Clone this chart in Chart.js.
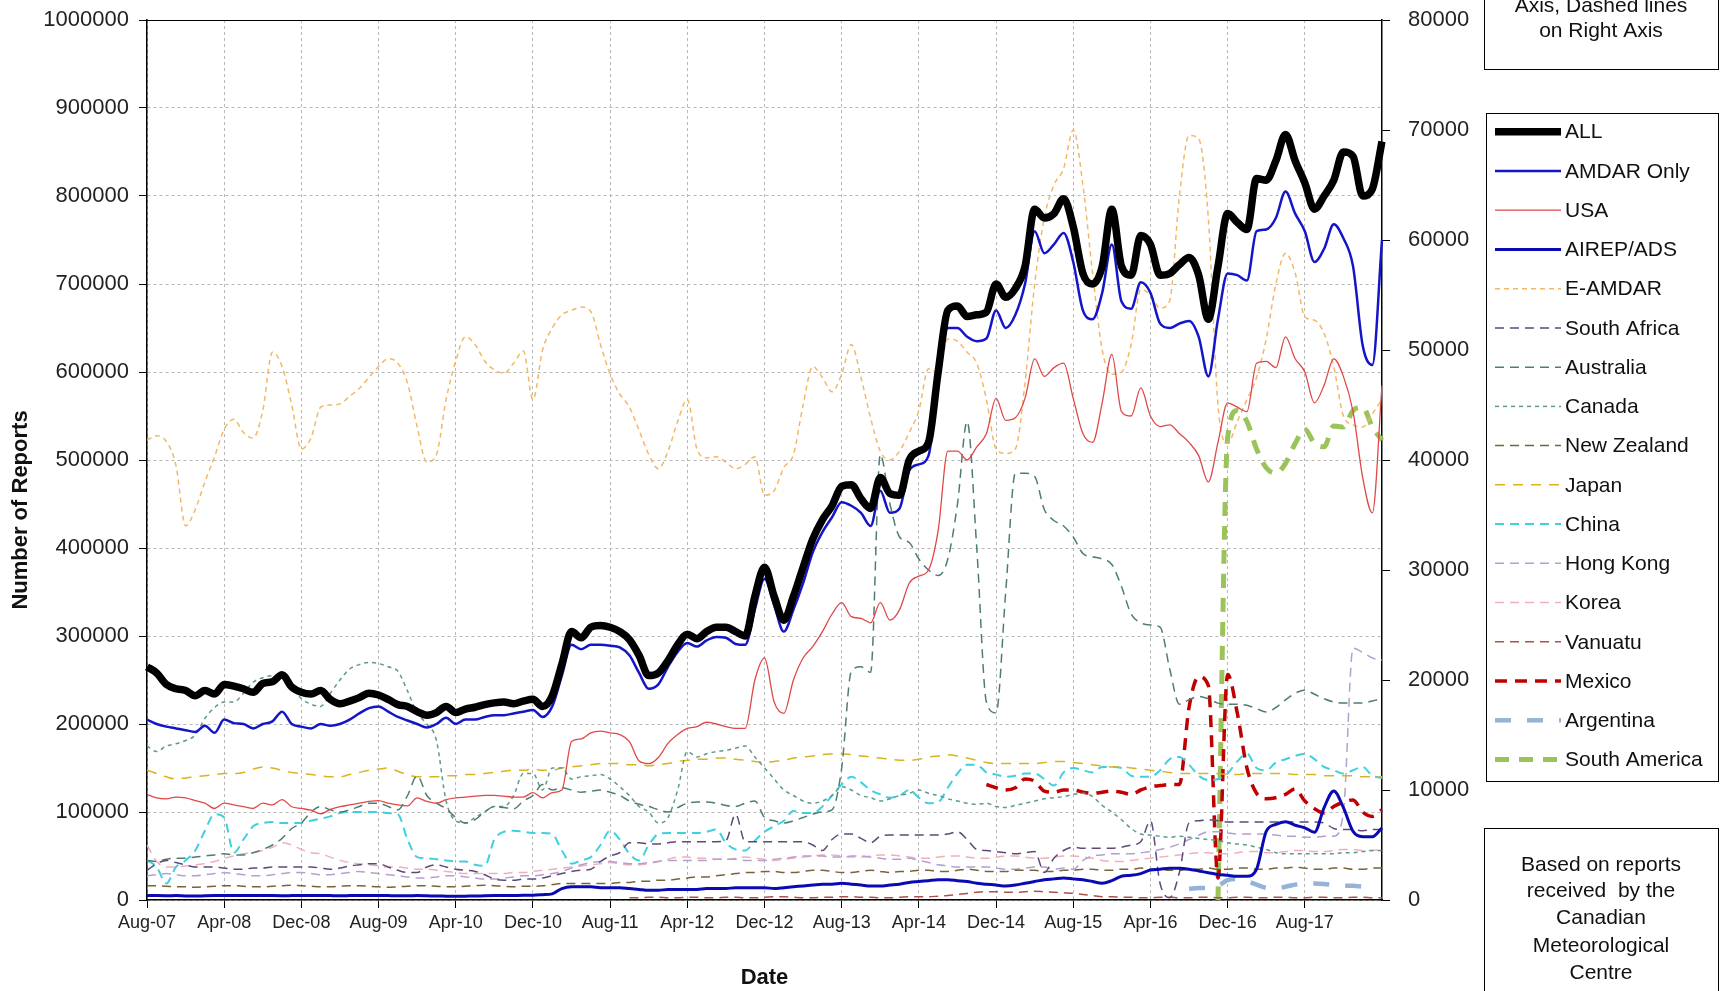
<!DOCTYPE html>
<html>
<head>
<meta charset="utf-8">
<title>Aircraft reports received by the Canadian Meteorological Centre</title>
<script src="https://cdn.jsdelivr.net/npm/chart.js@4.4.1/dist/chart.umd.min.js"></script>
<style>
  html, body { margin: 0; padding: 0; background: #fff; }
  #wrap { width: 1721px; height: 991px; }
</style>
</head>
<body>
<div id="wrap"><canvas id="reportsChart" width="1721" height="991"></canvas></div>
<script>
const FONT = "'Liberation Sans', Arial, Helvetica, sans-serif";

// monthly categories Aug-07 .. Apr-18
const monthNames = ["Jan", "Feb", "Mar", "Apr", "May", "Jun", "Jul", "Aug", "Sep", "Oct", "Nov", "Dec"];
const months = [];
for (let i = 0; i < 129; i++) {
  const m = (7 + i) % 12;
  const yr = 7 + Math.floor((7 + i) / 12);
  months.push(monthNames[m] + "-" + String(yr).padStart(2, "0"));
}
const tickEvery = 8;          // a label every 8 months
const lastTickIndex = 120;    // Aug-17 is the last labelled month

const leftTicks = [0, 100000, 200000, 300000, 400000, 500000, 600000, 700000, 800000, 900000, 1000000];
const rightTicks = [0, 10000, 20000, 30000, 40000, 50000, 60000, 70000, 80000];

const pad = (n, vals) => Array(n).fill(null).concat(vals);

// ---- solid lines, left axis ----
const allReports = [
  265000, 258000, 245000, 240000, 238000, 232000, 238000, 234000, 245000, 243000,
  240000, 236000, 246000, 248000, 256000, 242000, 236000, 234000, 238000, 228000,
  223000, 226000, 230000, 235000, 233000, 228000, 222000, 220000, 214000, 210000,
  213000, 220000, 213000, 217000, 219000, 222000, 224000, 225000, 223000, 226000,
  228000, 220000, 232000, 268000, 305000, 298000, 310000, 312000, 310000, 305000,
  296000, 278000, 255000, 258000, 272000, 290000, 302000, 297000, 305000, 310000,
  310000, 305000, 300000, 345000, 378000, 345000, 318000, 345000, 378000, 410000,
  432000, 448000, 470000, 472000, 456000, 445000, 480000, 462000, 460000, 500000,
  510000, 520000, 600000, 670000, 675000, 663000, 665000, 668000, 700000, 685000,
  695000, 720000, 785000, 775000, 780000, 797000, 765000, 712000, 700000, 720000,
  785000, 720000, 710000, 755000, 745000, 710000, 712000, 722000, 730000, 710000,
  660000, 720000, 780000, 770000, 762000, 820000, 818000, 840000, 870000, 840000,
  815000, 785000, 800000, 818000, 850000, 845000, 800000, 808000, 862000
];
const amdarOnly = [
  205000, 200000, 197000, 195000, 193000, 191000, 198000, 190000, 205000, 201000,
  200000, 195000, 200000, 203000, 214000, 200000, 197000, 195000, 200000, 198000,
  200000, 205000, 212000, 218000, 220000, 214000, 208000, 204000, 200000, 196000,
  200000, 207000, 200000, 205000, 205000, 208000, 210000, 210000, 212000, 214000,
  216000, 208000, 220000, 255000, 290000, 285000, 290000, 290000, 289000, 287000,
  278000, 258000, 240000, 245000, 265000, 282000, 292000, 288000, 295000, 299000,
  298000, 291000, 290000, 330000, 365000, 335000, 305000, 330000, 360000, 395000,
  418000, 435000, 452000, 448000, 440000, 425000, 465000, 440000, 445000, 488000,
  495000, 505000, 590000, 650000, 650000, 640000, 635000, 638000, 670000, 650000,
  665000, 700000, 760000, 735000, 745000, 758000, 725000, 670000, 660000, 690000,
  745000, 680000, 672000, 702000, 690000, 655000, 650000, 655000, 658000, 640000,
  595000, 660000, 712000, 710000, 704000, 760000, 762000, 775000, 805000, 780000,
  760000, 725000, 740000, 768000, 752000, 720000, 630000, 608000, 750000
];
const usa = [
  120000, 116000, 115000, 117000, 116000, 113000, 110000, 104000, 110000, 108000,
  106000, 104000, 110000, 108000, 114000, 106000, 104000, 102000, 98000, 103000,
  106000, 108000, 110000, 112000, 113000, 110000, 108000, 107000, 116000, 112000,
  110000, 114000, 116000, 117000, 118000, 119000, 119000, 118000, 117000, 117000,
  122000, 116000, 122000, 125000, 180000, 183000, 190000, 192000, 190000, 188000,
  180000, 158000, 155000, 162000, 178000, 188000, 195000, 197000, 202000, 200000,
  197000, 195000, 195000, 250000, 275000, 225000, 212000, 250000, 275000, 288000,
  305000, 325000, 338000, 322000, 320000, 315000, 338000, 318000, 330000, 360000,
  368000, 375000, 420000, 510000, 510000, 500000, 515000, 530000, 570000, 545000,
  548000, 570000, 615000, 595000, 605000, 610000, 570000, 530000, 520000, 565000,
  620000, 555000, 550000, 582000, 550000, 538000, 540000, 530000, 520000, 505000,
  475000, 520000, 565000, 560000, 555000, 610000, 612000, 605000, 640000, 615000,
  600000, 565000, 585000, 615000, 595000, 555000, 480000, 440000, 585000
];
const airepAds = [
  5200, 5000, 4900, 5000, 4600, 4500, 4800, 5000, 5100, 5000,
  5000, 5100, 5200, 5000, 4900, 5000, 5100, 5200, 5100, 5000,
  4900, 5000, 5100, 5200, 5100, 5000, 4900, 4900, 5000, 4800,
  4500, 4400, 4300, 4400, 4500, 4800, 5000, 5100, 5200, 5300,
  5400, 6000, 7000, 13000, 15000, 15000, 15000, 14000, 14000, 14000,
  13000, 12000, 11000, 11000, 12000, 12000, 12000, 12000, 13000, 13000,
  13000, 14000, 14000, 14000, 14000, 13000, 14000, 15000, 16000, 17000,
  18000, 18000, 19000, 18000, 17000, 16000, 16000, 17000, 18000, 20000,
  21000, 22000, 23000, 23000, 22000, 21000, 19000, 18000, 17000, 16000,
  17000, 19000, 21000, 23000, 24000, 25000, 24000, 23000, 21000, 19000,
  22000, 27000, 28000, 30000, 34000, 35000, 36000, 36000, 35000, 33000,
  31000, 29000, 28000, 27000, 27000, 35000, 78000, 86000, 89000, 85000,
  82000, 77000, 105000, 124000, 105000, 78000, 72000, 72000, 82000
];

// ---- dashed lines, right axis ----
const eAmdar = [
  41800, 42200, 41700, 39500, 34000, 35500, 38000, 40300, 42800, 43700,
  42500, 42000, 44500, 49800, 48500, 45000, 41000, 42000, 44800, 45000,
  45100, 45800, 46500, 47500, 48500, 49200, 48800, 47000, 43000, 39800,
  40500, 45500, 49000, 51200, 50500, 49000, 48200, 47900, 48800, 49900,
  45500, 50000, 52000, 53200, 53600, 53900, 53500, 50500, 47800, 46000,
  44800, 42700, 40500, 39200, 40800, 43500, 45500, 41000, 40200, 40300,
  39800, 39200, 39600, 40300, 36800, 37200, 39300, 40500, 45000, 48500,
  47500, 46200, 47800, 50500, 47500, 43800, 40800, 40000, 40800, 42500,
  44500, 48300, 48000, 51000, 50800, 49800, 48800, 45500, 41000, 40600,
  41000, 47000, 56000, 62000, 65000, 66500, 70000, 65000, 57000, 50000,
  47800, 48000, 50500, 55500, 55000, 53800, 54500, 64000, 69500, 69200,
  62000, 45000, 41500, 43500, 45500, 47500, 51000, 56000, 58800, 57000,
  53000, 52700, 51500, 48500, 44000, 43200, 43000, 44200, 45500
];
const southAfrica = [
  2700, 3300, 3600, 3400, 3200, 3000, 3000, 3000, 2900, 2800,
  2800, 2900, 2900, 3000, 3000, 3000, 3000, 3000, 2900, 2800,
  2900, 3100, 3200, 3300, 3300, 3000, 2700, 2500, 2500, 3000,
  3200, 3000, 2800, 2700, 2600, 2300, 1900, 1800, 1800, 1900,
  1900, 2000, 2200, 2400, 2600, 2700, 2800, 3500, 4000, 4300,
  5200, 5200, 5100, 5100, 5200, 5300, 5300, 5300, 5300, 5300,
  5400, 7800, 5300, 5300, 5300, 5300, 5300, 5300, 5300, 5000,
  4500, 5500, 6000, 6000, 5600, 5200, 5800, 5900, 5900, 5900,
  5900, 5900, 5900, 6000, 6200, 5500, 4600, 4500, 4400, 4300,
  4200, 4300, 4400, 2500, 3800, 4500, 4800, 4700, 4700, 4700,
  4700, 4800, 5000, 5300, 7200, 1500, 200, 2500, 7000, 7200,
  7300, 7200, 7100, 7100, 7100, 7100, 7100, 7100, 7100, 7100,
  7100, 7100, 7000, 6500, 6400, 6400, 6300, 6400, 6400
];
const australia = [
  3600, 3500, 3700, 3800, 3800, 3900, 4000, 4100, 4200, 4100,
  4100, 4300, 4600, 5000, 5600, 6500, 7000, 8000, 8500, 8200,
  8000, 8200, 8500, 8800, 8800, 8500, 8200, 9500, 11300, 9500,
  8800, 8300, 7500, 7000, 7300, 8000, 8500, 8400, 8300, 9000,
  9500, 10500, 10000, 10200, 10000, 9800, 9900, 10000, 9800, 9500,
  9000, 8700, 8500, 8200, 8000, 8400, 8800, 8900, 8900, 8800,
  8600, 8500, 8800, 9000, 7500, 7200, 7000, 7200, 7500, 7800,
  8000, 8200, 12000, 20800, 21200, 20700, 40500, 36000, 33000, 32500,
  31000, 30000, 29500, 31000, 36000, 43500, 32000, 18000, 17000, 28000,
  38800, 38800, 38500, 35500, 34500, 34000, 33000, 31500, 31200, 31000,
  30500, 28500, 26000, 25200, 25000, 24800, 21000, 17800, 18200, 18500,
  18300, 17900, 17800, 17800, 17700, 17400, 17100, 17500, 18200, 18800,
  19100, 18700, 18300, 18000, 17900, 17900, 17900, 18100, 18300
];
const canada = [
  14000, 13500, 14000, 14200, 14500, 15000, 16500, 17500, 18000, 18000,
  18800, 19800, 20200, 20400, 20200, 19300, 18300, 17800, 17600, 18800,
  20000, 21000, 21400, 21600, 21500, 21200, 20800, 19000, 17000, 16000,
  14500, 9000, 7200, 7000, 7500, 8000, 8500, 8500, 9500, 11500,
  11500, 10000, 12000, 12000, 11000, 11200, 11300, 11400, 11000, 10300,
  9500, 8500, 8000, 7000, 7500, 10000, 13500, 13000, 13300, 13500,
  13600, 13800, 14000, 13000, 12000, 11000, 10000, 9500, 9000, 8800,
  9000, 9500, 10300, 10000, 9500, 9300, 9000, 9200, 9500, 9700,
  10000, 9700, 9500, 9200, 9000, 8800, 8700, 8800, 8500, 8400,
  8600, 8800, 9000, 9200, 9300, 9400, 9600, 9700, 9400, 8600,
  8000, 7300, 6500, 6000, 5900, 5800, 5700, 5800, 5700, 5600,
  5500, 5400, 5200, 5100, 5000, 4800, 4600, 4300, 4200, 4200,
  4200, 4200, 4200, 4200, 4300, 4300, 4400, 4500, 4500
];
const newZealand = [
  1300, 1300, 1250, 1200, 1200, 1150, 1200, 1250, 1300, 1300,
  1250, 1200, 1200, 1250, 1300, 1350, 1300, 1250, 1200, 1200,
  1250, 1300, 1300, 1250, 1200, 1150, 1200, 1250, 1300, 1300,
  1250, 1200, 1200, 1250, 1300, 1350, 1300, 1250, 1200, 1250,
  1250, 1300, 1400, 1500, 1500, 1500, 1500, 1500, 1500, 1600,
  1600, 1700, 1700, 1800, 1800, 1900, 2000, 2100, 2100, 2200,
  2300, 2400, 2500, 2500, 2600, 2600, 2500, 2500, 2600, 2700,
  2700, 2600, 2500, 2500, 2600, 2700, 2600, 2500, 2600, 2600,
  2700, 2700, 2600, 2600, 2700, 2800, 2700, 2600, 2600, 2600,
  2700, 2700, 2700, 2600, 2600, 2700, 2700, 2800, 2800, 2700,
  2700, 2800, 2800, 2900, 2800, 2800, 2700, 2700, 2800, 2800,
  2900, 2800, 2800, 2900, 2900, 2800, 2800, 2900, 2900, 3000,
  2900, 2800, 2800, 2900, 2900, 2800, 2800, 2900, 2900
];
const japan = [
  11800, 11500, 11200, 11000, 11100, 11200, 11300, 11400, 11500, 11500,
  11600, 11900, 12100, 12000, 11800, 11600, 11500, 11400, 11300, 11200,
  11200, 11400, 11600, 11800, 11900, 12000, 11700, 11400, 11200, 11200,
  11200, 11300, 11300, 11400, 11400, 11500, 11600, 11700, 11800, 11800,
  11900, 11800, 11800, 12000, 12100, 12200, 12300, 12400, 12400, 12400,
  12300, 12300, 12200, 12300, 12400, 12600, 12700, 12800, 12800, 12900,
  12900, 12800, 12700, 12600, 12500, 12600, 12700, 12900, 13000, 13100,
  13200, 13300, 13300, 13200, 13100, 13000, 12900, 12800, 12700, 12700,
  12800, 13000, 13100, 13200, 13100, 12900, 12700, 12500, 12400, 12400,
  12400, 12400, 12400, 12500, 12600, 12600, 12500, 12400, 12300, 12200,
  12100, 12100, 12000, 11900, 11800, 11700, 11600, 11500, 11500, 11500,
  11500, 11500, 11400, 11400, 11500, 11500, 11500, 11500, 11500, 11400,
  11400, 11400, 11300, 11300, 11300, 11300, 11200, 11200, 11200
];
const china = [
  3600, 3000, 1500, 3000, 3600, 4500, 6300, 7800, 7500, 4300,
  5500, 6700, 7000, 7100, 7000, 7000, 7000, 7200, 7400, 7600,
  7900, 8000, 8000, 8000, 8000, 7900, 7800, 5500, 3900, 3800,
  3700, 3600, 3500, 3500, 3200, 3100, 5500, 6200, 6300, 6200,
  6100, 6100, 6000, 4500, 3300, 3600, 3900, 5000, 6300, 5500,
  4200, 3600, 5000, 6000, 6100, 6100, 6100, 6100, 6200, 6400,
  5200, 4600, 4500, 5400, 6200, 6700, 7200, 8100, 7900, 7900,
  8500, 9500, 10500, 11200, 10700, 10000, 9600, 9300, 9500, 10000,
  9300, 8800, 8900, 10200, 11500, 12300, 12300, 11600, 11400, 11200,
  11300, 11500, 11500, 11000, 10400, 11600, 12000, 11800, 11600, 12100,
  12100, 12000, 11300, 11200, 11200, 11800, 12800, 13000, 12300, 11300,
  10900, 11000, 11500, 12600, 13300, 12000, 11800, 12500, 12800, 13100,
  13300, 12800, 12100, 11800, 11500, 11800, 12100, 11300, 11100
];
const hongKong = [
  2200, 2300, 2400, 2300, 2200, 2200, 2300, 2400, 2500, 2400,
  2300, 2200, 2200, 2300, 2400, 2500, 2500, 2400, 2300, 2300,
  2400, 2500, 2600, 2500, 2400, 2300, 2200, 2100, 2000, 2000,
  2100, 2200, 2200, 2100, 2000, 1900, 1900, 2000, 2100, 2200,
  2200, 2300, 2400, 2600, 2900, 3200, 3400, 3500, 3500, 3400,
  3300, 3300, 3400, 3500, 3600, 3600, 3600, 3600, 3600, 3700,
  3700, 3700, 3600, 3600, 3600, 3700, 3800, 3900, 4000, 4000,
  4000, 3900, 3900, 4000, 4000, 3900, 3800, 3700, 3700, 3800,
  3600, 3400, 3200, 3100, 3000, 3000, 3000, 3000, 2900, 2800,
  2800, 2900, 3000, 3000, 2800, 2900, 2800, 3600, 4000, 4100,
  4200, 4200, 4200, 4300, 4400, 4600, 4800, 5100, 5500, 5900,
  6200, 6200, 6100, 6000, 6000, 6000, 6000, 5900, 5800, 5800,
  5700, 5700, 5800, 5800, 8000, 22900, 22500, 22000, 21800
];
const korea = [
  5000, 3500, 3000, 3000, 3100, 3200, 3300, 3500, 3800, 4000,
  4200, 4300, 4500, 4800, 5200, 5000, 4600, 4300, 4200, 3900,
  3600, 3400, 3300, 3200, 3100, 3000, 3000, 2900, 2800, 2800,
  2700, 2600, 2500, 2400, 2400, 2400, 2400, 2400, 2500, 2500,
  2600, 2700, 2800, 2900, 3000, 3100, 3200, 3300, 3400, 3300,
  3200, 3200, 3300, 3500, 3700, 3900, 3900, 3800, 3800, 3700,
  3700, 3800, 3900, 3800, 3700, 3600, 3700, 3800, 3900, 4000,
  4100, 4100, 4000, 3900, 3900, 4000, 4100, 4100, 4000, 3900,
  3800, 3800, 3900, 4000, 4000, 3900, 3800, 3800, 3900, 4000,
  4000, 3900, 3800, 3800, 3900, 4000, 4000, 3900, 3800, 3600,
  3500, 3500, 3600, 3700, 3800, 3900, 4000, 4100, 4200, 4300,
  4300, 4200, 4200, 4300, 4400, 4400, 4300, 4300, 4400, 4500,
  4500, 4400, 4400, 4500, 4600, 4600, 4500, 4500, 4600
];
const vanuatu = pad(50, [
  200, 200, 250, 250, 200, 200, 250, 250, 200, 200,
  250, 250, 200, 200, 250, 300, 300, 250, 200, 200,
  250, 250, 300, 300, 250, 250, 200, 200, 250, 300,
  300, 300, 350, 400, 500, 600, 700, 750, 750, 700,
  700, 750, 800, 750, 700, 650, 600, 500, 400, 300,
  300, 250, 250, 200, 200, 250, 250, 200, 200, 250,
  250, 200, 200, 250, 250, 200, 200, 250, 250, 200,
  200, 250, 250, 200, 200, 250, 250, 200, 200
]);
const mexico = pad(87, [
  10500, 10200, 10000,
  10200, 11000, 10800, 9900, 9800, 10000, 10000, 9800, 9700, 9800,
  9900, 9800, 9600, 10000, 10300, 10400, 10500, 10500, 17500, 20300,
  19500, 2000, 20500, 17000, 12000, 9700, 9200, 9300, 9600, 10100,
  9000, 8300, 7900, 8500, 8900, 9100, 8000, 7600, 8200
]);
const argentina = pad(108, [
  1000, 1100,
  1100, 1300, 1800, 1900, 1700, 1400, 1100, 1050, 1200, 1400,
  1500, 1500, 1450, 1350, 1300, 1300, 1200, null, null
]);
const southAmerica = pad(111, [
  0, 42000, 44500, 43500, 41000, 39300, 38800, 39700, 41500,
  42800, 41500, 41200, 43100, 43000, 44500, 44800, 43000, 41800
]);

function series(label, data, axis, color, width, dash) {
  return {
    label: label,
    data: data,
    yAxisID: axis,
    borderColor: color,
    backgroundColor: color,
    borderWidth: width,
    borderDash: dash,
    borderCapStyle: "butt",
    borderJoinStyle: "round",
    cubicInterpolationMode: "monotone",
    pointRadius: 0,
    pointHoverRadius: 0,
    fill: false,
    spanGaps: false
  };
}

const datasets = [
  series("ALL", allReports, "y", "#000000", 7.5, []),
  series("AMDAR Only", amdarOnly, "y", "#1414c8", 2.5, []),
  series("USA", usa, "y", "#e04848", 1.3, []),
  series("AIREP/ADS", airepAds, "y", "#0a0ab4", 3, []),
  series("E-AMDAR", eAmdar, "y1", "#f2b866", 1.5, [5, 4]),
  series("South Africa", southAfrica, "y1", "#5e4a78", 1.5, [9, 6]),
  series("Australia", australia, "y1", "#4e7d72", 1.5, [9, 6]),
  series("Canada", canada, "y1", "#5c9a8c", 1.5, [4, 4]),
  series("New Zealand", newZealand, "y1", "#7a6338", 1.5, [9, 6]),
  series("Japan", japan, "y1", "#d9b320", 1.5, [10, 8]),
  series("China", china, "y1", "#3fd0e0", 2, [9, 6]),
  series("Hong Kong", hongKong, "y1", "#b3a0d0", 1.5, [9, 6]),
  series("Korea", korea, "y1", "#eeb0bd", 1.5, [9, 6]),
  series("Vanuatu", vanuatu, "y1", "#b0504a", 1.5, [9, 6]),
  series("Mexico", mexico, "y1", "#c00000", 3.5, [12, 8]),
  series("Argentina", argentina, "y1", "#95b3d7", 4.5, [16, 16]),
  series("South America", southAmerica, "y1", "#9bc35a", 5, [14, 10])
];

const isMajor = (i) => i % tickEvery === 0 && i <= lastTickIndex;

// legend box, note boxes, y title, top frame line
const sidePanels = {
  id: "sidePanels",
  afterDraw(chart) {
    const ctx = chart.ctx;
    const area = chart.chartArea;
    ctx.save();

    ctx.strokeStyle = "#000";
    ctx.lineWidth = 1;
    ctx.beginPath();
    ctx.moveTo(area.left, area.top + 0.5);
    ctx.lineTo(area.right, area.top + 0.5);
    ctx.stroke();

    ctx.save();
    ctx.translate(21, 510);
    ctx.rotate(-Math.PI / 2);
    ctx.font = "bold 22px " + FONT;
    ctx.fillStyle = "#111";
    ctx.textAlign = "center";
    ctx.textBaseline = "middle";
    ctx.fillText("Number of Reports", 0, 0);
    ctx.restore();

    // top note (cut by the page edge)
    ctx.strokeRect(1484.5, -10, 234, 79.5);
    ctx.font = "21px " + FONT;
    ctx.fillStyle = "#111";
    ctx.textAlign = "center";
    ctx.textBaseline = "middle";
    ctx.fillText("Axis, Dashed lines", 1601, 6);
    ctx.fillText("on Right Axis", 1601, 31);

    // legend
    ctx.strokeRect(1486.5, 113.5, 232, 668);
    ctx.textAlign = "left";
    chart.data.datasets.forEach((ds, i) => {
      const y = 131.7 + 39.24 * i;
      ctx.save();
      ctx.strokeStyle = ds.borderColor;
      ctx.lineWidth = ds.borderWidth;
      ctx.setLineDash(ds.borderDash);
      ctx.beginPath();
      ctx.moveTo(1495, y);
      ctx.lineTo(1561, y);
      ctx.stroke();
      ctx.restore();
      ctx.fillStyle = "#111";
      ctx.fillText(ds.label, 1565, y + 1);
    });

    // bottom note
    ctx.strokeRect(1484.5, 828.5, 234, 200);
    ctx.textAlign = "center";
    const note = ["Based on reports", "received  by the", "Canadian", "Meteorological", "Centre"];
    const noteY = [865, 891, 918, 946, 973];
    note.forEach((t, i) => ctx.fillText(t, 1601, noteY[i]));

    ctx.restore();
  }
};

new Chart(document.getElementById("reportsChart"), {
  type: "line",
  data: { labels: months, datasets: datasets },
  options: {
    responsive: false,
    animation: false,
    layout: { padding: { top: 20, left: 0, right: 0, bottom: 0 } },
    plugins: {
      legend: { display: false },
      tooltip: { enabled: false }
    },
    scales: {
      x: {
        type: "category",
        offset: false,
        afterFit(scale) { scale.height = 91; },
        ticks: {
          autoSkip: false,
          maxRotation: 0,
          minRotation: 0,
          padding: 4,
          color: "#222",
          font: { family: FONT, size: 18 },
          callback: (value, index) => (isMajor(index) ? months[index] : "")
        },
        grid: {
          color: (c) => (isMajor(c.index) ? "#b8b8b8" : "rgba(0,0,0,0)"),
          tickColor: (c) => (isMajor(c.index) ? "#000" : "rgba(0,0,0,0)"),
          tickLength: 8,
          lineWidth: 1
        },
        border: { color: "#000", width: 1.5, dash: [3, 3] },
        title: {
          display: true,
          text: "Date",
          color: "#111",
          font: { family: FONT, size: 22, weight: "bold" },
          padding: { top: 0, bottom: 0 }
        }
      },
      y: {
        position: "left",
        min: 0,
        max: 1000000,
        afterFit(scale) {
          scale.width = 147;
          scale.paddingTop = 13;
          scale.paddingBottom = 13;
        },
        afterBuildTicks(scale) { scale.ticks = leftTicks.map((v) => ({ value: v })); },
        ticks: {
          padding: 10,
          color: "#222",
          font: { family: FONT, size: 22 },
          callback: (v) => String(v)
        },
        grid: { color: "#b8b8b8", tickColor: "#000", tickLength: 8, lineWidth: 1 },
        border: { color: "#000", width: 1.5, dash: [3, 3] }
      },
      y1: {
        position: "right",
        min: 0,
        max: 80000,
        afterFit(scale) {
          scale.width = 1721 - 1382;
          scale.paddingTop = 13;
          scale.paddingBottom = 13;
        },
        afterBuildTicks(scale) { scale.ticks = rightTicks.map((v) => ({ value: v })); },
        ticks: {
          padding: 18,
          color: "#222",
          font: { family: FONT, size: 22 },
          callback: (v) => String(v)
        },
        grid: { drawOnChartArea: false, color: "#000", tickColor: "#000", tickLength: 8 },
        border: { color: "#000", width: 1.5 }
      }
    }
  },
  plugins: [sidePanels]
});
</script>
</body>
</html>
